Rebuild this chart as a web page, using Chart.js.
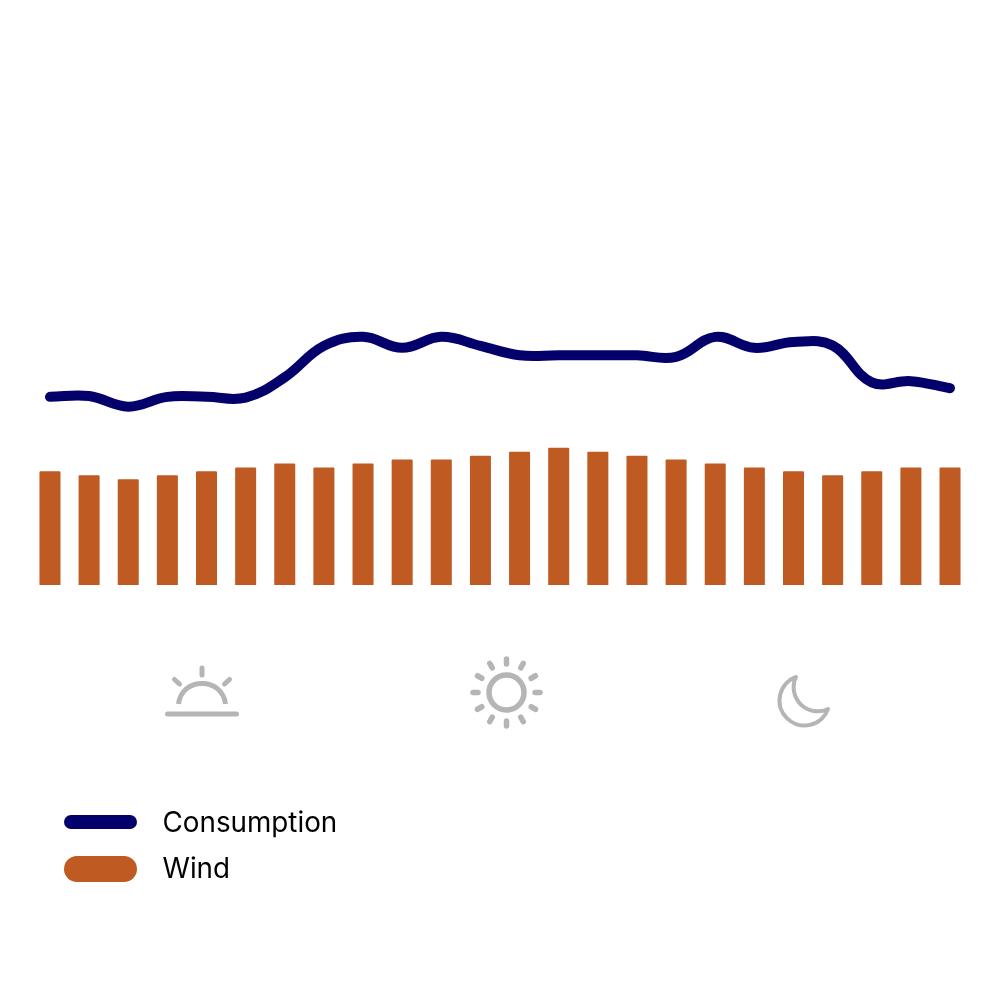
<!DOCTYPE html>
<html>
<head>
<meta charset="utf-8">
<script src="https://cdn.jsdelivr.net/npm/chart.js@4"></script>
<style>
html,body{margin:0;padding:0;background:#fff;width:1000px;height:1000px;overflow:hidden}
#wrap{position:relative;width:1000px;height:1000px}
canvas{position:absolute;left:0;top:0}
svg{position:absolute;left:0;top:0;pointer-events:none}
.lg{position:absolute;left:162.500px;font:27.800px Inter,sans-serif;color:#000;line-height:32px;white-space:nowrap}
.sw{position:absolute;left:64px;width:73px}
</style>
</head>
<body>
<div id="wrap">
<canvas id="c" width="1000" height="1000"></canvas>
<svg width="1000" height="1000" viewBox="0 0 1000 1000" fill="none" stroke="#b5b5b5" stroke-linecap="round" stroke-width="5">
  <g>
    <path d="M167.500 714H236.500"/>
    <path d="M178.500 704C180 691 190 683.500 202 683.500C214 683.500 224 691 225.500 704" stroke-linecap="butt"/>
    <path d="M202 668V675M174.500 679.500L179.500 684M229.500 679.500L224.500 684"/>
  </g>
  <g id="sun">
    <circle cx="506.500" cy="692.500" r="17.500" stroke-width="5.500"/>
  </g>
  <path d="M796 677A25 25 0 1 0 828 709A24 24 0 0 1 796 677Z" stroke-width="4" stroke-linejoin="round"/>
</svg>
<div class="sw" id="sw0" style="top:815px;height:14px;border-radius:7px"></div>
<div class="sw" id="sw1" style="top:856px;height:26px;border-radius:13px"></div>
<div class="lg" id="lg0" style="top:806px"></div>
<div class="lg" id="lg1" style="top:852px"></div>
</div>
<script>
const hours = ['0','1','2','3','4','5','6','7','8','9','10','11','12','13','14','15','16','17','18','19','20','21','22','23'];
const consumption = [48,48.2,45.5,48,48,47.8,53,61,63.3,60.5,63.3,61,58.6,58.6,58.6,58.6,58.2,63.3,60.5,62,61.1,51.7,52,50.2];
const wind = [29,28,27,28,29,30,31,30,31,32,32,33,34,35,34,33,32,31,30,29,28,29,30,30];
const seriesNames = ['Consumption','Wind'];
const lineColor = '#04006b';
const barColor = '#bf5b22';

// sun rays
const sun = document.getElementById('sun');
for (let a = 0; a < 12; a++) {
  const t = a * Math.PI / 6;
  const l = document.createElementNS('http://www.w3.org/2000/svg', 'line');
  l.setAttribute('x1', 506.5 + 28.5 * Math.sin(t));
  l.setAttribute('y1', 692.5 - 28.5 * Math.cos(t));
  l.setAttribute('x2', 506.5 + 33.5 * Math.sin(t));
  l.setAttribute('y2', 692.5 - 33.5 * Math.cos(t));
  l.setAttribute('stroke-width', 5.5);
  sun.appendChild(l);
}
document.getElementById('sw0').style.background = lineColor;
document.getElementById('sw1').style.background = barColor;
document.getElementById('lg0').textContent = seriesNames[0];
document.getElementById('lg1').textContent = seriesNames[1];

new Chart(document.getElementById('c'), {
  data: {
    labels: hours,
    datasets: [
      {type:'line', label:seriesNames[0], data:consumption, borderColor:lineColor, borderWidth:10,
       borderCapStyle:'round', borderJoinStyle:'round', pointRadius:0, tension:0.4, order:0},
      {type:'bar', label:seriesNames[1], data:wind, backgroundColor:barColor, borderRadius:1, borderSkipped:'bottom',
       barPercentage:0.537, categoryPercentage:1, order:1}
    ]
  },
  options: {
    responsive:false, animation:false,
    layout:{padding:{left:30.4, right:30.4, top:193, bottom:415}},
    plugins:{legend:{display:false}, tooltip:{enabled:false}},
    scales:{
      x:{display:false},
      y:{display:false, min:0, max:100}
    }
  }
});
</script>
</body>
</html>
